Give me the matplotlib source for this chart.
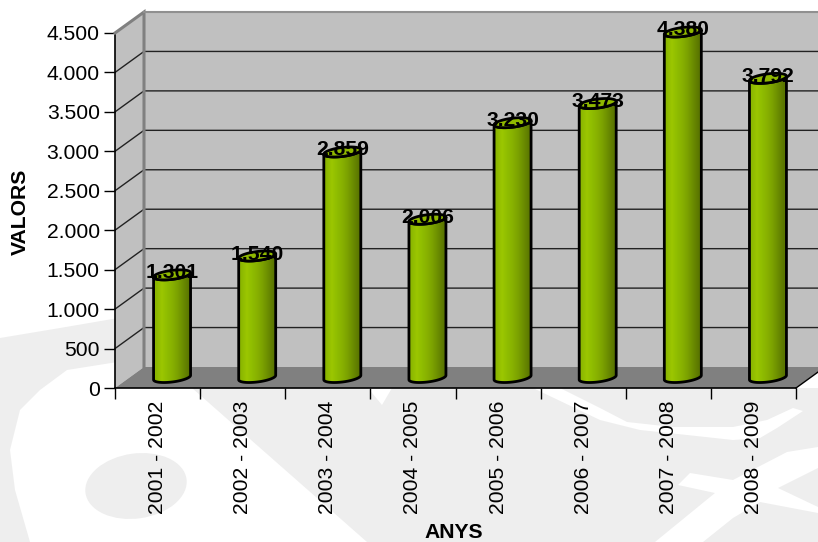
import numpy as np
import matplotlib
matplotlib.use('Agg')
import matplotlib.pyplot as plt
from matplotlib.patches import Polygon, Ellipse

plt.rcParams['font.family'] = ['Liberation Sans', 'DejaVu Sans']

years = ['2001 - 2002', '2002 - 2003', '2003 - 2004', '2004 - 2005',
         '2005 - 2006', '2006 - 2007', '2007 - 2008', '2008 - 2009']
values = [1301, 1540, 2859, 2006, 3230, 3473, 4380, 3792]
value_labels = ['1.301', '1.540', '2.859', '2.006', '3.230', '3.473', '4.380', '3.792']
y_ticks = [0, 500, 1000, 1500, 2000, 2500, 3000, 3500, 4000, 4500]
y_tick_labels = ['0', '500', '1.000', '1.500', '2.000', '2.500', '3.000', '3.500', '4.000', '4.500']

W, H = 818, 542
fs = 15.2
fig = plt.figure(figsize=(W / 100, H / 100), dpi=100, facecolor='white')

# watermark behind everything, in pixel coords
bg = fig.add_axes([0, 0, 1, 1], zorder=0)
bg.set_xlim(0, W)
bg.set_ylim(H, 0)
bg.axis('off')
wm = '#eeeeee'
bg.add_patch(Polygon([(0, 338), (60, 328), (130, 316), (130, 360), (67, 370), (40, 390), (20, 410),
                      (10, 450), (15, 490), (30, 542), (0, 542)], color=wm, lw=0))
bg.add_patch(Ellipse((136, 486), 102, 65, angle=-8, color=wm, lw=0))
bg.add_patch(Polygon([(192, 388), (818, 388), (818, 542), (367, 542)], color=wm, lw=0))
bg.add_patch(Polygon([(368, 388), (392, 388), (382, 405)], color='white', lw=0))
bg.add_patch(Polygon([(560, 388), (600, 408), (627, 422), (673, 427), (733, 427), (767, 420), (793, 408),
                      (803, 411), (777, 428), (760, 438), (733, 440), (687, 435), (640, 430), (600, 420),
                      (533, 388)], color='white', lw=0))
bg.add_patch(Polygon([(678, 485), (690, 473), (733, 480), (787, 452), (818, 447), (818, 468), (778, 488),
                      (818, 507), (818, 513), (760, 502), (733, 518), (703, 542), (655, 542), (715, 493)],
                     color='white', lw=0))

# front plane of the 3D box
ax = fig.add_axes([115 / W, 1 - 388 / H, 681 / W, 355 / H], zorder=1)
ax.patch.set_alpha(0)
sx = 8 / 681
sy = 4500 / 355
dx = 29 * sx
dy = 21 * sy

# walls and floor
ax.add_patch(Polygon([(dx, dy), (8 + dx, dy), (8 + dx, 4500 + dy), (dx, 4500 + dy)],
                     fc='#c0c0c0', ec='none', clip_on=False, zorder=1))
ax.add_patch(Polygon([(0, 0), (dx, dy), (dx, 4500 + dy), (0, 4500)],
                     fc='#c0c0c0', ec='none', clip_on=False, zorder=1))
ax.add_patch(Polygon([(0, 0), (8, 0), (8 + dx, dy), (dx, dy)],
                     fc='#808080', ec='none', clip_on=False, zorder=1))
for v in y_ticks[1:-1]:
    ax.plot([0, dx, 8 + dx], [v, v + dy, v + dy], color='#222222', lw=1, clip_on=False, zorder=2)
ax.plot([0, dx, dx], [4500, 4500 + dy, dy], color='#808080', lw=2.2, clip_on=False, zorder=3,
        solid_joinstyle='miter')
ax.plot([dx, 8 + dx], [4500 + dy, 4500 + dy], color='#909090', lw=1.5, clip_on=False, zorder=3)
ax.plot([8, 8 + dx], [0, dy], color='black', lw=1, clip_on=False, zorder=3)

# cylinders
half_w = 18.5 * sx
ell_h = 4.5 * sy
tilt = 2.2 * sy
t = np.linspace(0, 2 * np.pi, 80)
grad = np.array([[0.55, 0.72, 0.0], [0.61, 0.78, 0.0], [0.56, 0.74, 0.0], [0.53, 0.69, 0.0],
                 [0.48, 0.63, 0.0], [0.42, 0.55, 0.0], [0.36, 0.47, 0.0]])[None, :, :]
lower = t[t >= np.pi]
upper = lower[::-1]
for i, v in enumerate(values):
    cx = i + 0.5 + dx / 2
    base = dy / 2
    top = v + dy / 2
    # body outline: bottom half of the base ellipse, then the top ellipse back
    bx = cx + half_w * np.cos(lower)
    by = base + ell_h * np.sin(lower) + tilt * np.cos(lower)
    tx = cx + half_w * np.cos(upper)
    ty = top + ell_h * np.sin(upper) + tilt * np.cos(upper)
    body = np.column_stack([np.r_[bx, tx], np.r_[by, ty]])
    im = ax.imshow(grad, extent=[cx - half_w, cx + half_w, base - 2 * ell_h, top + 2 * ell_h],
                   aspect='auto', interpolation='bilinear', zorder=4)
    edge = Polygon(body, closed=True, fc='none', ec='black', lw=2, clip_on=False, zorder=5)
    ax.add_patch(edge)
    im.set_clip_path(edge)
    ex = cx + half_w * np.cos(t)
    ey = top + ell_h * np.sin(t) + tilt * np.cos(t)
    ax.add_patch(Polygon(np.column_stack([ex, ey]), closed=True, fc='#8fb800', ec='black',
                         lw=2, clip_on=False, zorder=6))
    ax.text(cx, top + 2 * sy, value_labels[i], ha='center', va='center', fontsize=fs,
            fontweight='bold', color='black', clip_on=False, zorder=7)

ax.set_xlim(0, 8)
ax.set_ylim(0, 4500)
ax.set_xticks(range(9))
ax.set_xticklabels([])
ax.set_yticks(y_ticks)
ax.set_yticklabels(y_tick_labels, fontsize=fs)
ax.tick_params(axis='y', length=8, width=1, pad=3)
ax.tick_params(axis='x', length=8, width=1)
for name in ['top', 'right']:
    ax.spines[name].set_visible(False)
for name in ['left', 'bottom']:
    ax.spines[name].set_linewidth(1.2)
for i, lab in enumerate(years):
    ax.text(i + 0.5, -13 * sy, lab, rotation=90, ha='center', va='top', fontsize=fs, clip_on=False)
fig.text(454 / W, 1 - 533 / H, 'ANYS', ha='center', va='center', fontsize=fs, fontweight='bold')
fig.text(20 / W, 1 - 212 / H, 'VALORS', rotation=90, ha='center', va='center', fontsize=fs, fontweight='bold')

fig.savefig('out.png', dpi=100)
